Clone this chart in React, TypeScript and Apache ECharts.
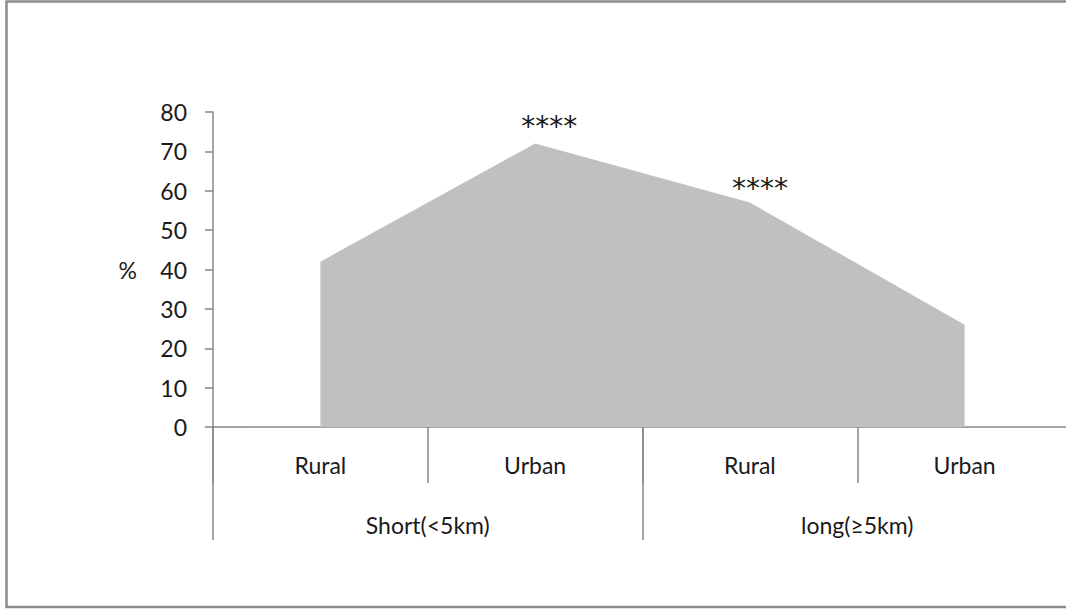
import React, { useEffect, useRef } from "react";
import * as echarts from "echarts";

const categories = ["Rural", "Urban", "Rural", "Urban"];
const groups = ["Short(<5km)", "long(≥5km)"];
const values = [42, 72, 57, 26];
const starLabels = ["", "****", "****", ""];
const yTicks = { min: 0, max: 80, interval: 10 };

const AXIS = "#878787";
const TEXT = "#1a1a1a";
const FONT = "Lato";

export default function App() {
  const ref = useRef<HTMLDivElement>(null);
  useEffect(() => {
    if (!ref.current) return;
    const chart = echarts.init(ref.current, undefined, { renderer: "svg" });
    const starOffsets = [[0, 0], [14, 2], [10, 5], [0, 0]];
    chart.setOption({
      animation: false,
      backgroundColor: "#ffffff",
      graphic: [
        {
          type: "rect",
          shape: { x: 6.5, y: 1.5, width: 1100, height: 605.5 },
          style: { fill: "none", stroke: "#8c8c8c", lineWidth: 2.5 },
          silent: true,
        },
      ],
      grid: {
        left: 213,
        top: 112,
        width: 859,
        height: 315,
        containLabel: false,
        outerBoundsMode: "none",
      },
      xAxis: [
        {
          type: "category",
          data: categories,
          position: "bottom",
          boundaryGap: true,
          axisLine: { show: true, lineStyle: { color: AXIS, width: 1.5 } },
          axisTick: { show: true, interval: 0, length: 56, lineStyle: { color: AXIS, width: 1.5 } },
          axisLabel: { interval: 0, margin: 26, fontSize: 23, color: TEXT, fontFamily: FONT },
        },
        {
          type: "category",
          data: groups,
          position: "bottom",
          boundaryGap: true,
          axisLine: { show: false },
          axisTick: { show: true, interval: 0, length: 113, lineStyle: { color: AXIS, width: 1.5 } },
          axisLabel: { interval: 0, margin: 86, fontSize: 23, color: TEXT, fontFamily: FONT },
        },
      ],
      yAxis: {
        type: "value",
        min: yTicks.min,
        max: yTicks.max,
        interval: yTicks.interval,
        name: "%",
        nameLocation: "middle",
        nameRotate: 0,
        nameGap: 76,
        nameTextStyle: { fontSize: 23, color: TEXT, fontFamily: FONT },
        axisLine: { show: true, lineStyle: { color: AXIS, width: 1.5 } },
        axisTick: { show: true, length: 8, lineStyle: { color: AXIS, width: 1.5 } },
        splitLine: { show: false },
        axisLabel: { margin: 26, fontSize: 23, color: TEXT, fontFamily: FONT },
      },
      series: [
        {
          type: "line",
          xAxisIndex: 0,
          symbol: "circle",
          symbolSize: 2,
          showSymbol: true,
          itemStyle: { color: "rgba(192,192,192,0)", borderWidth: 0 },
          data: values.map((v, i) => ({
            value: v,
            label: {
              show: starLabels[i] !== "",
              formatter: starLabels[i],
              position: "top",
              distance: 4,
              offset: starOffsets[i],
              fontSize: 28,
              color: TEXT,
              fontFamily: "DejaVu Sans",
            },
          })),
          lineStyle: { width: 0 },
          areaStyle: { color: "#c0c0c0", opacity: 1 },
        },
      ],
    });
    return () => chart.dispose();
  }, []);
  return (
    <div
      ref={ref}
      style={{ position: "fixed", left: 0, top: 0, width: 1066, height: 609 }}
    />
  );
}
